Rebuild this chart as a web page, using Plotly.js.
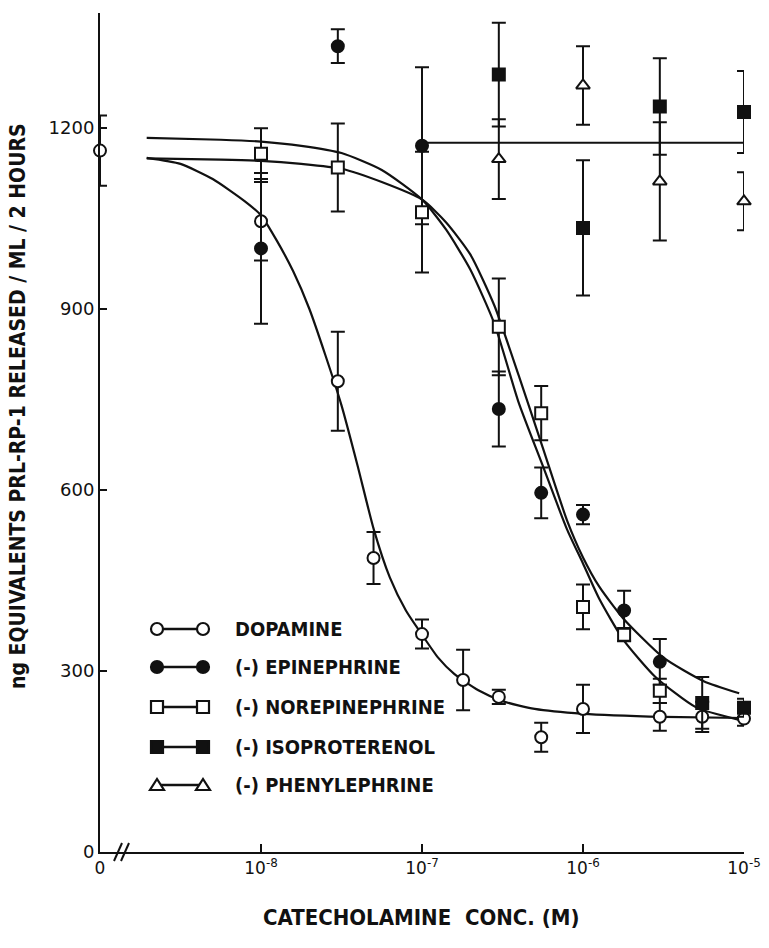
<!DOCTYPE html>
<html>
<head>
<meta charset="utf-8">
<script src="https://cdn.plot.ly/plotly-3.0.1.min.js"></script>
<style>
  html, body { margin: 0; padding: 0; background: #fff; }
  #chart { width: 769px; height: 948px; }
</style>
</head>
<body>
<div id="chart"></div>
<script>
// ---------- data ----------
// concentrations in M; the "0" (no catecholamine) point is placed at the axis origin (1e-9)
const dopamineX   = [1e-9, 1e-8, 3e-8, 5e-8, 1e-7, 1.8e-7, 3e-7, 5.5e-7, 1e-6, 3e-6, 5.5e-6, 1e-5];
const dopamineY   = [1162, 1045, 780, 487, 361, 285, 257, 190, 237, 224, 224, 221];
const dopamineErr = [58, 65, 82, 43, 24, 50, 12, 24, 40, 23, 25, 12];

const epiX   = [1e-8, 3e-8, 1e-7, 3e-7, 5.5e-7, 1e-6, 1.8e-6, 3e-6, 5.5e-6, 1e-5];
const epiY   = [1000, 1335, 1170, 734, 595, 559, 400, 315, 247, 239];
const epiErr = [125, 28, 130, 62, 42, 16, 33, 38, 43, 15];

const norepiX   = [1e-8, 3e-8, 1e-7, 3e-7, 5.5e-7, 1e-6, 1.8e-6, 3e-6];
const norepiY   = [1157, 1134, 1060, 870, 727, 406, 360, 267];
const norepiErr = [42, 73, 100, 80, 45, 37, 11, 20];

const isoX   = [3e-7, 1e-6, 3e-6, 1e-5];
const isoY   = [1288, 1034, 1235, 1226];
const isoErr = [86, 112, 80, 68];

const pheX   = [3e-7, 1e-6, 3e-6, 1e-5];
const pheY   = [1148, 1270, 1111, 1078];
const pheErr = [66, 65, 98, 48];

// fitted curves; x given as log10(M)
const dopaCurveLogX = [-8.71, -8.5, -8.3, -8.1, -8.0, -7.9, -7.8, -7.7, -7.6, -7.5, -7.4, -7.3, -7.2, -7.1, -7.0, -6.9, -6.8, -6.65, -6.5, -6.3, -6.0, -5.5, -5.0];
const dopaCurveY    = [1150, 1140, 1115, 1078, 1055, 1012, 962, 900, 823, 740, 640, 535, 455, 400, 360, 322, 295, 268, 250, 237, 229, 224, 222];

const curveALogX = [-8.71, -8.25, -8.0, -7.75, -7.5, -7.25, -7.0, -6.85, -6.7, -6.55, -6.4, -6.25, -6.1, -6.0, -5.9, -5.75, -5.55, -5.3, -5.03];
const curveAY    = [1183, 1180, 1177, 1170, 1158, 1130, 1081, 1031, 965, 875, 745, 640, 535, 478, 420, 352, 290, 240, 219];

const curveBLogX = [-8.71, -8.25, -8.0, -7.75, -7.5, -7.25, -7.0, -6.85, -6.7, -6.55, -6.4, -6.25, -6.1, -6.0, -5.9, -5.75, -5.5, -5.25, -5.03];
const curveBY    = [1149, 1147, 1145, 1140, 1132, 1110, 1081, 1043, 990, 905, 790, 670, 550, 488, 440, 387, 322, 283, 263];

const flatX = [1e-7, 1e-5];
const flatY = [1175, 1175];

const xTickVals = [1e-9, 1e-8, 1e-7, 1e-6, 1e-5];
const xTickText = ['0', '10<sup>-8</sup>', '10<sup>-7</sup>', '10<sup>-6</sup>', '10<sup>-5</sup>'];
const yTickVals = [0, 300, 600, 900, 1200];

const legendNames = ['DOPAMINE', '(-) EPINEPHRINE', '(-) NOREPINEPHRINE', '(-) ISOPROTERENOL', '(-) PHENYLEPHRINE'];

// ---------- styles ----------
const INK = '#111';
const NARROW = 'Liberation Sans Narrow, DejaVu Sans Condensed, sans-serif';
function errY(arr) {
  return { type: 'data', array: arr, visible: true, color: INK, thickness: 2, width: 7 };
}
function pts(x, y, err, symbol, filled) {
  return {
    x: x, y: y, type: 'scatter', mode: 'markers', cliponaxis: false, showlegend: false,
    error_y: errY(err),
    marker: { symbol: symbol, size: 12, color: filled ? INK : '#fff', line: { color: INK, width: 2 } }
  };
}
function curve(logx, y) {
  return { x: logx.map(v => Math.pow(10, v)), y: y, type: 'scatter', mode: 'lines', showlegend: false, hoverinfo: 'skip',
           line: { color: INK, width: 2.2, shape: 'spline', smoothing: 0.6 } };
}

const epiSymbols = epiX.map((v, i) => (i >= epiX.length - 2 ? 'square' : 'circle'));

const traces = [
  curve(dopaCurveLogX, dopaCurveY),
  curve(curveALogX, curveAY),
  curve(curveBLogX, curveBY),
  { x: flatX, y: flatY, type: 'scatter', mode: 'lines', showlegend: false, line: { color: INK, width: 2 } },
  pts(dopamineX, dopamineY, dopamineErr, 'circle', false),
  pts(epiX, epiY, epiErr, epiSymbols, true),
  pts(norepiX, norepiY, norepiErr, 'square', false),
  pts(isoX, isoY, isoErr, 'square', true),
  pts(pheX, pheY, pheErr, 'triangle-up', false)
];

// ---------- legend drawn as shapes + text ----------
const L = 100, T = 13, PW = 644, PH = 839;
const px2x = p => (p - L) / PW;
const py2y = p => (T + PH - p) / PH;
const legendRowsY = [629, 667, 707, 747, 785];
const legendKinds = [['circle', false], ['circle', true], ['square', false], ['square', true], ['triangle', false]];
const shapes = [];
const annotations = [];
legendRowsY.forEach((ry, i) => {
  const yy = py2y(ry);
  shapes.push({ type: 'line', xref: 'paper', yref: 'paper', x0: px2x(160), x1: px2x(200), y0: yy, y1: yy,
                line: { color: INK, width: 2.5 } });
  [157, 203].forEach(cx => {
    const kind = legendKinds[i][0], filled = legendKinds[i][1];
    const base = { xref: 'paper', yref: 'paper', xsizemode: 'pixel', ysizemode: 'pixel',
                   xanchor: px2x(cx), yanchor: yy, fillcolor: filled ? INK : '#fff',
                   line: { color: INK, width: 2.2 }, layer: 'above' };
    if (kind === 'circle') shapes.push(Object.assign({ type: 'circle', x0: -6, x1: 6, y0: -6, y1: 6 }, base));
    else if (kind === 'square') shapes.push(Object.assign({ type: 'rect', x0: -6, x1: 6, y0: -6, y1: 6 }, base));
    else shapes.push(Object.assign({ type: 'path', path: 'M -7 -5 L 7 -5 L 0 6 Z' }, base));
  });
  annotations.push({ xref: 'paper', yref: 'paper', x: px2x(233), y: yy, xanchor: 'left', yanchor: 'middle',
                     text: legendNames[i], showarrow: false,
                     font: { family: NARROW, size: 20, color: INK, weight: 700 } });
});

// axis break "//"
[[114, 122], [121, 129]].forEach(p => {
  shapes.push({ type: 'line', xref: 'paper', yref: 'paper', x0: px2x(p[0]), y0: py2y(861), x1: px2x(p[1]), y1: py2y(843),
                line: { color: INK, width: 2 } });
});

// axis titles
annotations.push({ xref: 'paper', yref: 'paper', x: px2x(421), y: py2y(917), xanchor: 'center', yanchor: 'middle',
                   showarrow: false, text: 'CATECHOLAMINE&nbsp;&nbsp;CONC. (M)',
                   font: { family: NARROW, size: 22, color: INK, weight: 700 } });
annotations.push({ xref: 'paper', yref: 'paper', x: px2x(18), y: py2y(406), xanchor: 'center', yanchor: 'middle',
                   textangle: -90, showarrow: false, text: 'ng EQUIVALENTS PRL-RP-1 RELEASED / ML / 2 HOURS',
                   font: { family: NARROW, size: 21, color: INK, weight: 700 } });

const layout = {
  width: 769, height: 948,
  margin: { l: L, r: 769 - L - PW, t: T, b: 948 - T - PH },
  paper_bgcolor: '#fff', plot_bgcolor: '#fff',
  showlegend: false,
  xaxis: {
    type: 'log', range: [-9, -5], tickvals: xTickVals, ticktext: xTickText,
    ticks: 'inside', ticklen: 8, tickwidth: 2, tickcolor: INK,
    showline: true, linecolor: INK, linewidth: 2, showgrid: false, zeroline: false,
    tickfont: { family: 'DejaVu Sans', size: 17, color: INK }
  },
  yaxis: {
    range: [0, 1390], tickvals: yTickVals,
    ticks: 'inside', ticklen: 7, tickwidth: 2, tickcolor: INK,
    showline: true, linecolor: INK, linewidth: 2, showgrid: false, zeroline: false,
    tickfont: { family: 'DejaVu Sans', size: 18, color: INK }
  },
  shapes: shapes,
  annotations: annotations
};

Plotly.newPlot('chart', traces, layout, { displayModeBar: false, staticPlot: true });
</script>
</body>
</html>
